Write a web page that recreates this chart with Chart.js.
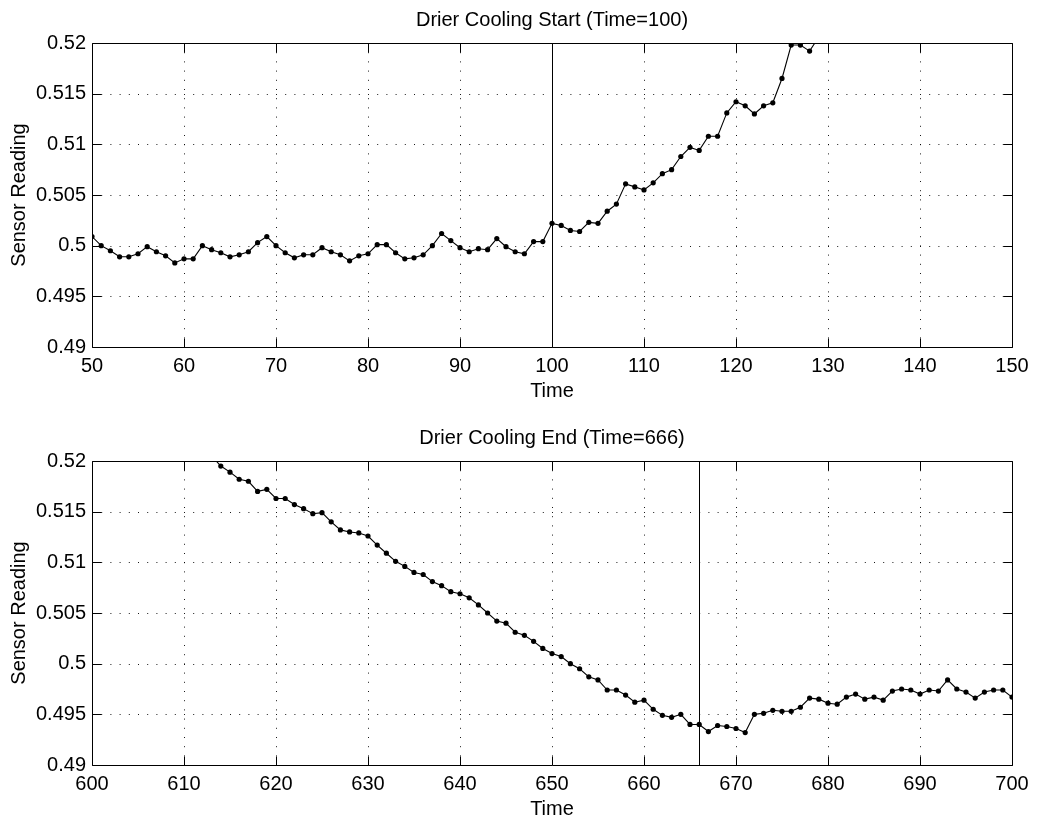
<!DOCTYPE html>
<html><head><meta charset="utf-8">
<script src="https://cdn.jsdelivr.net/npm/chart.js@4.4.1/dist/chart.umd.min.js"></script>
<style>
html,body{margin:0;padding:0;background:#fff;}
#wrap{position:relative;width:1037px;height:822px;background:#fff;}
.box{position:absolute;left:0;width:1037px;height:411px;}
canvas{display:block;}
</style></head><body>
<div id="wrap">
<div class="box" style="top:0"><canvas id="c1" width="1037" height="411"></canvas></div>
<div class="box" style="top:411px"><canvas id="c2" width="1037" height="411"></canvas></div>
</div>
<script>
// ---------- data ----------
const titleTop = 'Drier Cooling Start (Time=100)';
const titleBottom = 'Drier Cooling End (Time=666)';
const xAxisLabel = 'Time';
const yAxisLabel = 'Sensor Reading';

const markerTop = 100;
const markerBottom = 666;

const xTicksTop = [50, 60, 70, 80, 90, 100, 110, 120, 130, 140, 150];
const xTicksBottom = [600, 610, 620, 630, 640, 650, 660, 670, 680, 690, 700];
const yTicks = [0.49, 0.495, 0.5, 0.505, 0.51, 0.515, 0.52];
const yTickLabels = ['0.49', '0.495', '0.5', '0.505', '0.51', '0.515', '0.52'];

const timeTop = [50,51,52,53,54,55,56,57,58,59,60,61,62,63,64,65,66,67,68,69,
  70,71,72,73,74,75,76,77,78,79,80,81,82,83,84,85,86,87,88,89,
  90,91,92,93,94,95,96,97,98,99,100,101,102,103,104,105,106,107,108,109,
  110,111,112,113,114,115,116,117,118,119,120,121,122,123,124,125,126,127,128,129,130];
const readingTop = [0.5009,0.5000,0.4995,0.4989,0.4989,0.4992,0.4999,0.4994,0.4990,0.4983,
  0.4987,0.4987,0.5000,0.4996,0.4993,0.4989,0.4991,0.4994,0.5003,0.5009,
  0.5000,0.4993,0.4988,0.4991,0.4991,0.4998,0.4994,0.4991,0.4985,0.4990,
  0.4992,0.5001,0.5001,0.4993,0.4987,0.4988,0.4991,0.5000,0.5012,0.5005,
  0.4998,0.4994,0.4997,0.4996,0.5007,0.4999,0.4994,0.4992,0.5004,0.5004,
  0.5022,0.5020,0.5015,0.5014,0.5023,0.5022,0.5034,0.5041,0.5061,0.5058,
  0.5055,0.5062,0.5071,0.5075,0.5088,0.5097,0.5094,0.5108,0.5108,0.5131,
  0.5142,0.5138,0.5130,0.5138,0.5141,0.5165,0.5198,0.5198,0.5192,0.5206,0.5218];

const timeBottom = [612,613,614,615,616,617,618,619,620,621,622,623,624,625,626,627,628,629,
  630,631,632,633,634,635,636,637,638,639,640,641,642,643,644,645,646,647,648,649,
  650,651,652,653,654,655,656,657,658,659,660,661,662,663,664,665,666,667,668,669,
  670,671,672,673,674,675,676,677,678,679,680,681,682,683,684,685,686,687,688,689,
  690,691,692,693,694,695,696,697,698,699,700];
const readingBottom = [0.5212,0.5205,0.5195,0.5189,0.5182,0.5180,0.5170,0.5172,
  0.5163,0.5163,0.5157,0.5153,0.5148,0.5149,0.5140,0.5132,0.5130,0.5129,
  0.5126,0.5117,0.5109,0.5101,0.5096,0.5090,0.5088,0.5081,0.5077,0.5071,
  0.5069,0.5065,0.5058,0.5050,0.5042,0.5040,0.5031,0.5028,0.5022,0.5015,
  0.5010,0.5007,0.5000,0.4995,0.4987,0.4984,0.4974,0.4974,0.4969,0.4962,
  0.4964,0.4955,0.4949,0.4947,0.4950,0.4940,0.4940,0.4933,0.4939,0.4938,
  0.4936,0.4932,0.4950,0.4951,0.4954,0.4953,0.4953,0.4957,0.4966,0.4965,
  0.4961,0.4960,0.4967,0.4970,0.4965,0.4967,0.4964,0.4973,0.4975,0.4974,
  0.4970,0.4974,0.4973,0.4984,0.4975,0.4972,0.4966,0.4972,0.4974,0.4974,0.4967];

// ---------- drawing ----------
const FONT = "'Liberation Sans', Arial, Helvetica, sans-serif";

const framePlugin = {
  id: 'matlabFrame',
  beforeDatasetsDraw(chart, args, opts) {
    const {ctx, chartArea: a, scales: {x, y}} = chart;
    ctx.save();
    ctx.strokeStyle = 'rgba(0,0,0,0.9)';
    ctx.lineWidth = 1;
    ctx.setLineDash([1, 8.2]);
    opts.xTicks.forEach(v => {
      if (v <= x.min || v >= x.max) return;
      const px = Math.round(x.getPixelForValue(v)) + 0.5;
      ctx.beginPath(); ctx.moveTo(px, a.top); ctx.lineTo(px, a.bottom); ctx.stroke();
    });
    opts.yTicks.forEach(v => {
      if (v <= y.min + 1e-9 || v >= y.max - 1e-9) return;
      const py = Math.round(y.getPixelForValue(v)) + 0.5;
      ctx.beginPath(); ctx.moveTo(a.left, py); ctx.lineTo(a.right, py); ctx.stroke();
    });
    ctx.restore();
  },
  afterDatasetsDraw(chart, args, opts) {
    const {ctx, chartArea: a, scales: {x, y}} = chart;
    const L = Math.round(a.left) + 0.5, R = Math.round(a.right) + 0.5;
    const T = Math.round(a.top) + 0.5, B = Math.round(a.bottom) + 0.5;
    ctx.save();
    ctx.strokeStyle = '#000';
    ctx.lineWidth = 1;
    ctx.setLineDash([]);
    // marker line
    const mx = Math.round(x.getPixelForValue(opts.marker)) + 0.5;
    ctx.beginPath(); ctx.moveTo(mx, T); ctx.lineTo(mx, B); ctx.stroke();
    // box
    ctx.beginPath();
    ctx.moveTo(L, T); ctx.lineTo(R, T); ctx.lineTo(R, B); ctx.lineTo(L, B); ctx.closePath();
    ctx.stroke();
    // inward ticks
    const tl = 9;
    ctx.beginPath();
    opts.xTicks.forEach(v => {
      const px = Math.round(x.getPixelForValue(v)) + 0.5;
      ctx.moveTo(px, B); ctx.lineTo(px, B - tl);
      ctx.moveTo(px, T); ctx.lineTo(px, T + tl);
    });
    opts.yTicks.forEach(v => {
      const py = Math.round(y.getPixelForValue(v)) + 0.5;
      ctx.moveTo(L, py); ctx.lineTo(L + tl, py);
      ctx.moveTo(R, py); ctx.lineTo(R - tl, py);
    });
    ctx.stroke();
    ctx.restore();
  }
};

function makeChart(id, times, values, xTicks, marker, title, titlePadTop, xAxisHeight, xTitlePadBottom) {
  const pts = times.map((t, i) => ({x: t, y: values[i]}));
  return new Chart(document.getElementById(id), {
    type: 'line',
    data: {
      datasets: [{
        data: pts,
        borderColor: '#000',
        borderWidth: 1.1,
        backgroundColor: '#000',
        pointRadius: 2.6,
        pointBorderWidth: 0,
        pointBackgroundColor: '#000',
        tension: 0,
        fill: false
      }]
    },
    options: {
      responsive: false,
      animation: false,
      devicePixelRatio: 1,
      layout: {padding: {left: 0, right: 25, top: 0, bottom: 0}},
      plugins: {
        legend: {display: false},
        tooltip: {enabled: false},
        title: {
          display: true,
          fullSize: false,
          text: title,
          color: '#000',
          font: {family: FONT, size: 20, weight: 'normal', lineHeight: 1.2},
          padding: {top: titlePadTop, bottom: 11}
        },
        matlabFrame: {xTicks: xTicks, yTicks: yTicks, marker: marker}
      },
      scales: {
        x: {
          type: 'linear',
          min: xTicks[0],
          max: xTicks[xTicks.length - 1],
          grid: {display: false, drawTicks: false},
          border: {display: false},
          afterBuildTicks: s => { s.ticks = xTicks.map(v => ({value: v})); },
          afterFit: s => { s.height = xAxisHeight; },
          ticks: {
            color: '#000',
            padding: 7,
            maxRotation: 0,
            autoSkip: false,
            font: {family: FONT, size: 20},
            callback: v => String(v)
          },
          title: {
            display: true,
            text: xAxisLabel,
            color: '#000',
            font: {family: FONT, size: 20},
            padding: {top: 0, bottom: xTitlePadBottom}
          }
        },
        y: {
          type: 'linear',
          min: yTicks[0],
          max: yTicks[yTicks.length - 1],
          grid: {display: false, drawTicks: false},
          border: {display: false},
          afterBuildTicks: s => { s.ticks = yTicks.map(v => ({value: v})); },
          afterFit: s => { s.width = 92; },
          ticks: {
            color: '#000',
            padding: 6,
            autoSkip: false,
            font: {family: FONT, size: 20},
            callback: (v, i) => yTickLabels[i]
          },
          title: {
            display: true,
            text: yAxisLabel,
            color: '#000',
            font: {family: FONT, size: 20},
            padding: {top: 7, bottom: 0}
          }
        }
      }
    },
    plugins: [framePlugin]
  });
}

makeChart('c1', timeTop, readingTop, xTicksTop, markerTop, titleTop, 8, 64, 8);
makeChart('c2', timeBottom, readingBottom, xTicksBottom, markerBottom, titleBottom, 15, 57, 1);
</script>
</body></html>
